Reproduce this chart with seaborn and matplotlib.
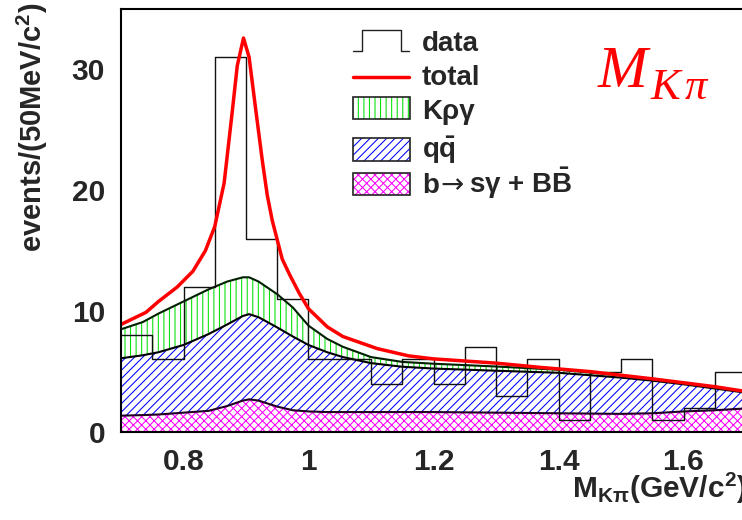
import numpy as np
import matplotlib
matplotlib.use("Agg")
import matplotlib.pyplot as plt
from matplotlib.lines import Line2D
from matplotlib.patches import Rectangle
from matplotlib.ticker import MultipleLocator, FixedLocator, FuncFormatter
import seaborn as sns

# ---------------- data ----------------
# observed events in 50 MeV/c^2 bins of M(K pi)
bin_edges = [0.70, 0.75, 0.80, 0.85, 0.90, 0.95, 1.00, 1.05, 1.10, 1.15, 1.20,
             1.25, 1.30, 1.35, 1.40, 1.45, 1.50, 1.55, 1.60, 1.65, 1.70]
data_counts = [8, 6, 12, 31, 16, 11, 6, 6, 4, 6,
               4, 7, 3, 6, 1, 5, 6, 1, 2, 5]

# fitted background components (events per bin), evaluated on a mass grid
mass_grid = [0.70, 0.735, 0.76, 0.80, 0.84, 0.87, 0.895, 0.905, 0.92, 0.95,
             0.975, 1.00, 1.03, 1.055, 1.10, 1.15, 1.20, 1.30, 1.40, 1.50,
             1.55, 1.60, 1.65, 1.70]
bsg_bbbar = [1.35, 1.40, 1.45, 1.60, 1.75, 2.15, 2.60, 2.70, 2.60, 2.10,
             1.80, 1.70, 1.65, 1.65, 1.65, 1.65, 1.65, 1.60, 1.55, 1.50,
             1.55, 1.70, 1.80, 1.95]
qqbar = [4.75, 4.95, 5.15, 5.60, 6.35, 6.75, 7.00, 7.05, 6.90, 6.55,
         6.10, 5.50, 4.95, 4.55, 4.05, 3.75, 3.60, 3.47, 3.35, 3.00,
         2.70, 2.25, 1.80, 1.30]
k_rho_gamma = [2.40, 2.75, 3.20, 3.60, 3.70, 3.55, 3.20, 3.05, 2.95, 2.75,
               2.40, 1.60, 1.10, 0.85, 0.50, 0.40, 0.40, 0.35, 0.25, 0.20,
               0.12, 0.12, 0.10, 0.10]

# total fit (signal + all backgrounds)
total_mass = [0.70, 0.74, 0.76, 0.79, 0.815, 0.835, 0.85, 0.865, 0.878, 0.886,
              0.896, 0.905, 0.916, 0.926, 0.934, 0.942, 0.95, 0.958, 0.97,
              0.985, 1.00, 1.03, 1.055, 1.11, 1.16, 1.20, 1.30, 1.37, 1.45,
              1.55, 1.65, 1.70]
total_fit = [8.9, 9.9, 10.8, 12.0, 13.3, 15.0, 17.0, 20.6, 26.5, 30.3,
             32.6, 31.0, 26.5, 22.5, 19.6, 17.5, 15.9, 14.3, 13.0,
             11.5, 10.2, 8.7, 7.9, 6.9, 6.3, 6.05, 5.7, 5.35, 5.0,
             4.4, 3.75, 3.35]

x_major_ticks = [0.8, 1.0, 1.2, 1.4, 1.6]

# ---------------- style ----------------
sns.set_style("white")
plt.rcParams["font.family"] = ["Liberation Sans", "DejaVu Sans"]
plt.rcParams["mathtext.fontset"] = "custom"
plt.rcParams["mathtext.rm"] = "Liberation Sans:bold"
plt.rcParams["mathtext.bf"] = "Liberation Sans:bold"
plt.rcParams["mathtext.it"] = "Liberation Serif:italic"
plt.rcParams["mathtext.default"] = "rm"
plt.rcParams["hatch.linewidth"] = 0.75

W, H = 742, 520
fig = plt.figure(figsize=(W / 100, H / 100), dpi=100)
fig.patch.set_facecolor("white")


def fx(px):
    return px / W


def fy(py):
    return 1 - py / H


# axes frame extends past the right edge of the canvas
ax = fig.add_axes([fx(121), fy(432), 687.5 / W, 423 / H])
ax.set_facecolor("white")

m = np.array(mass_grid)
lvl1 = np.array(bsg_bbbar)
lvl2 = lvl1 + np.array(qqbar)
lvl3 = lvl2 + np.array(k_rho_gamma)

MAGENTA = "#ff00ff"
BLUE = "#0000ff"
GREEN = "#00e000"

ax.fill_between(m, 0, lvl1, facecolor="none", edgecolor=MAGENTA,
                hatch="xxxx", linewidth=0, zorder=1)
ax.fill_between(m, lvl1, lvl2, facecolor="none", edgecolor=BLUE,
                hatch="////", linewidth=0, zorder=1)
ax.fill_between(m, lvl2, lvl3, facecolor="none", edgecolor=GREEN,
                hatch="|||", linewidth=0, zorder=1)

for lvl, col in [(lvl1, "#200020"), (lvl2, "black"), (lvl3, "#002000")]:
    sns.lineplot(x=m, y=lvl, ax=ax, color=col, linewidth=1.5,
                 estimator=None, sort=False, zorder=3)

# observed data as an outline histogram
centers = [(a + b) / 2 for a, b in zip(bin_edges[:-1], bin_edges[1:])]
sns.histplot(x=centers, weights=data_counts, bins=bin_edges, element="step",
             fill=False, color="#111111", linewidth=1.0, ax=ax, zorder=4)

sns.lineplot(x=total_mass, y=total_fit, ax=ax, color="red", linewidth=2.5,
             estimator=None, sort=False, zorder=5)

ax.set_xlim(0.7, 1.8)
ax.set_ylim(0, 35)
ax.set_xlabel("")
ax.set_ylabel("")

ax.xaxis.set_major_locator(FixedLocator(x_major_ticks))
ax.xaxis.set_minor_locator(MultipleLocator(0.05))
ax.yaxis.set_major_locator(MultipleLocator(10))
ax.yaxis.set_minor_locator(MultipleLocator(2))
ax.xaxis.set_major_formatter(FuncFormatter(lambda v, p: f"{v:g}"))
ax.yaxis.set_major_formatter(FuncFormatter(lambda v, p: f"{v:g}"))

ax.tick_params(which="both", direction="in", top=False, right=False,
               width=1.4, color="black")
ax.tick_params(which="major", length=17, labelsize=21.5, pad=11.5)
ax.tick_params(which="minor", length=8.6)
for lab in ax.get_xticklabels() + ax.get_yticklabels():
    lab.set_fontweight("bold")

for side in ["left", "bottom", "top"]:
    ax.spines[side].set_visible(True)
    ax.spines[side].set_linewidth(1.5)
    ax.spines[side].set_color("black")
ax.spines["right"].set_visible(False)
for sp in ax.spines.values():
    sp.set_zorder(6)

# axis titles
fig.text(fx(42), fy(3), "events/(50MeV/c$^{2}$)", rotation=90,
         rotation_mode="anchor", ha="right", va="baseline",
         fontsize=21, fontweight="bold")
fig.text(fx(572), fy(498), r"$\mathrm{M}_{\mathrm{K}\pi}$(GeV/c$^{2}$)",
         ha="left", va="baseline", fontsize=21.5, fontweight="bold")

# big mass label: italic M with a K-pi subscript
fig.text(fx(598), fy(87), "M", color="red", ha="left", va="baseline",
         fontsize=43, family="Liberation Serif", style="italic")
fig.text(fx(651), fy(99), "K", color="red", ha="left", va="baseline",
         fontsize=32, family="Liberation Serif", style="italic")
fig.text(fx(685), fy(99), "π", color="red", ha="left", va="baseline",
         fontsize=32, family="Liberation Serif", style="italic")

# ---------------- legend ----------------
tf = fig.transFigure
step_x = [353, 362, 362, 401, 401, 409]
step_y = [51, 51, 30, 30, 51, 51]
fig.add_artist(Line2D([fx(v) for v in step_x], [fy(v) for v in step_y],
                      transform=tf, color="#222222", linewidth=1.0))
fig.add_artist(Line2D([fx(353), fx(409)], [fy(77), fy(77)], transform=tf,
                      color="red", linewidth=2.5))

boxes = [(97, 119, GREEN, "|||"), (138, 161, BLUE, "////"),
         (173, 195, MAGENTA, "xxxx")]
for top, bot, col, hatch in boxes:
    fig.add_artist(Rectangle((fx(353), fy(bot)), (410 - 353) / W, (bot - top) / H,
                             transform=tf, facecolor="none", edgecolor=col,
                             hatch=hatch, linewidth=0))
    fig.add_artist(Rectangle((fx(353), fy(bot)), (410 - 353) / W, (bot - top) / H,
                             transform=tf, facecolor="none", edgecolor="#222222",
                             linewidth=1.2))

legend_labels = ["data", "total", "Kργ", r"q$\bar{\mathrm{q}}$"]
legend_baselines = [51, 85, 119, 158]
for lab, yb in zip(legend_labels, legend_baselines):
    fig.text(fx(422), fy(yb), lab, ha="left", va="baseline",
             fontsize=20, fontweight="bold")

# last entry: b -> s gamma + B Bbar, with a long arrow glyph
fig.text(fx(422), fy(193), "b", ha="left", va="baseline",
         fontsize=20, fontweight="bold")
fig.text(fx(440), fy(193), "→", ha="left", va="baseline",
         fontsize=20, family="DejaVu Sans")
fig.text(fx(469), fy(193), r"sγ + B$\bar{\mathrm{B}}$", ha="left",
         va="baseline", fontsize=20, fontweight="bold")

fig.savefig("out.png", dpi=100, facecolor="white")
